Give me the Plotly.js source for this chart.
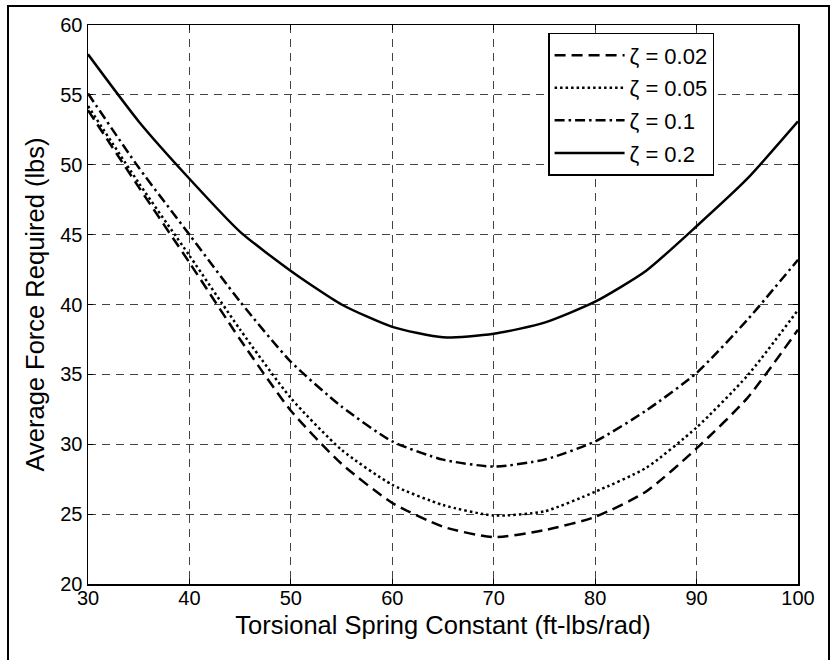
<!DOCTYPE html>
<html>
<head>
<meta charset="utf-8">
<script src="https://cdn.plot.ly/plotly-3.0.1.min.js"></script>
<style>
html,body{margin:0;padding:0;background:#fff;}
#wrap{position:relative;width:834px;height:660px;overflow:hidden;}
#frame{position:absolute;left:7px;top:5px;width:819px;height:700px;border:2px solid #000;pointer-events:none;}
#chart{position:absolute;left:0;top:0;width:834px;height:660px;}
</style>
</head>
<body>
<div id="wrap"><div id="chart"></div><div id="frame"></div></div>
<script>
const springK = [30, 35, 40, 45, 50, 55, 60, 65, 70, 75, 80, 85, 90, 95, 100];
const force002 = [53.9, 48.4, 43.0, 37.5, 32.4, 28.6, 25.8, 24.1, 23.35, 23.85, 24.8, 26.6, 29.7, 33.3, 38.2];
const force005 = [54.2, 48.7, 43.5, 38.2, 33.3, 29.6, 27.1, 25.65, 24.9, 25.2, 26.6, 28.3, 31.2, 34.9, 39.6];
const force01  = [55.1, 49.8, 45.0, 40.2, 35.9, 32.7, 30.2, 28.9, 28.4, 28.9, 30.2, 32.4, 35.1, 38.9, 43.2];
const force02  = [57.9, 53.1, 49.0, 45.2, 42.4, 40.0, 38.4, 37.65, 37.9, 38.7, 40.2, 42.4, 45.6, 49.0, 53.1];
const seriesNames = ['\u03B6 = 0.02', '\u03B6 = 0.05', '\u03B6 = 0.1', '\u03B6 = 0.2'];
const xTicks = [30, 40, 50, 60, 70, 80, 90, 100];
const yTicks = [20, 25, 30, 35, 40, 45, 50, 55, 60];

const dashes = ['11px,6px', '2.5px,3px', '10px,4px,2.5px,4px', 'solid'];
const ys = [force002, force005, force01, force02];
const traces = ys.map((y, i) => ({
  x: springK, y: y, name: seriesNames[i], type: 'scatter', mode: 'lines',
  legendgroup: 'g' + i,
  line: {color: '#000', width: 2.5, dash: dashes[i], shape: 'spline', smoothing: 0.6},
  hoverinfo: 'skip'
}));

const font = 'Liberation Sans, Arial, sans-serif';
const axisCommon = {
  showline: true, linecolor: '#000', linewidth: 1.5, mirror: 'ticks',
  ticks: 'inside', ticklen: 5, tickcolor: '#000',
  showgrid: true, gridcolor: '#444', gridwidth: 1, griddash: '8px,6px',
  zeroline: false, tickfont: {family: font, size: 20, color: '#000'}
};
const layout = {
  width: 834, height: 660,
  margin: {l: 88, r: 36, t: 25, b: 76},
  paper_bgcolor: '#fff', plot_bgcolor: '#fff',
  showlegend: true,
  xaxis: Object.assign({}, axisCommon, {
    range: [30, 100], tickvals: xTicks, ticktext: xTicks.map(String),
    ticklabelstandoff: -5,
    title: {text: 'Torsional Spring Constant (ft-lbs/rad)', font: {family: font, size: 25.5, color: '#000'}, standoff: 8}
  }),
  yaxis: Object.assign({}, axisCommon, {
    range: [20, 60], tickvals: yTicks, ticktext: yTicks.map(String),
    title: {text: 'Average Force Required (lbs)', font: {family: font, size: 25.5, color: '#000'}, standoff: 8}
  }),
  legend: {
    x: 0.648, y: 0.986, xanchor: 'left', yanchor: 'top',
    bgcolor: '#fff', bordercolor: '#000', borderwidth: 1.5,
    font: {family: font, size: 22, color: '#000'},
    itemwidth: 70, tracegroupgap: 1
  }
};
Plotly.newPlot('chart', traces, layout, {staticPlot: true, displayModeBar: false});
</script>
</body>
</html>
